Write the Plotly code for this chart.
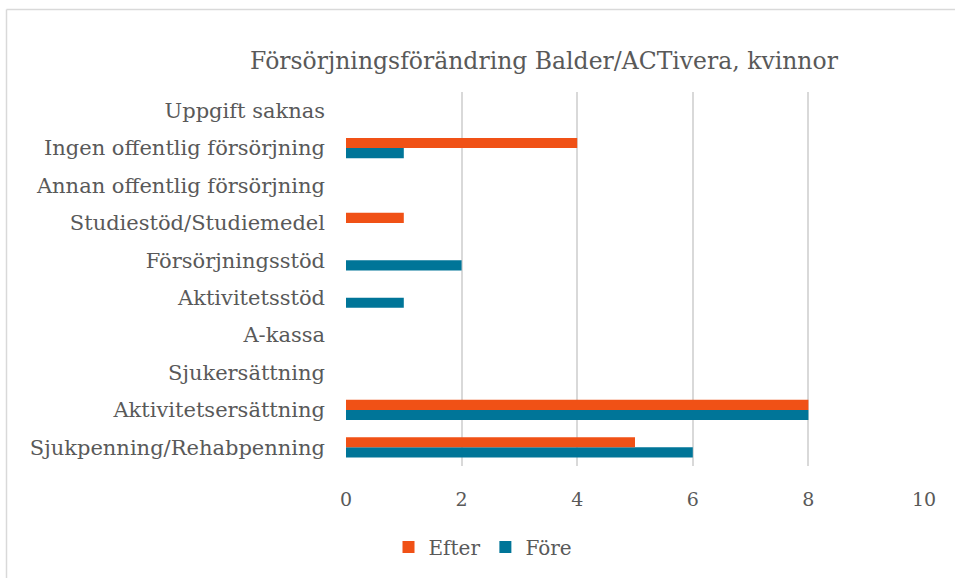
import plotly.graph_objects as go

categories = ["Sjukpenning/Rehabpenning", "Aktivitetsersättning", "Sjukersättning", "A-kassa",
              "Aktivitetsstöd", "Försörjningsstöd", "Studiestöd/Studiemedel",
              "Annan offentlig försörjning", "Ingen offentlig försörjning", "Uppgift saknas"]
efter = [5, 8, 0, 0, 0, 0, 1, 0, 4, 0]
fore = [6, 8, 0, 0, 1, 2, 0, 0, 1, 0]

FONT = "DejaVu Serif"
GRAY = "#595959"

fig = go.Figure()
fig.add_trace(go.Bar(y=categories, x=fore, name="Före", orientation="h",
                     marker=dict(color="#007598", line=dict(width=0)), legendrank=2))
fig.add_trace(go.Bar(y=categories, x=efter, name="Efter", orientation="h",
                     marker=dict(color="#F05116", line=dict(width=0)), legendrank=1))

L, R, T, B = 346, 924, 92, 466
W, H = 955, 578
def px(x): return (x - L) / (R - L)
def py(y): return (B - y) / (B - T)

fig.update_layout(
    width=W, height=H,
    margin=dict(l=L, r=W - R, t=T, b=H - B),
    paper_bgcolor="white", plot_bgcolor="white",
    barmode="group", bargap=0.46, bargroupgap=0,
    font=dict(family=FONT, color=GRAY, size=20),
    title=dict(text="Försörjningsförändring Balder/ACTivera, kvinnor",
               x=px(544), xref="paper", xanchor="center",
               y=1 - 61 / H, yref="container", yanchor="middle",
               font=dict(size=23.5, color=GRAY, family=FONT)),
    xaxis=dict(range=[0, 10], dtick=2, showgrid=True, gridcolor="#d9d9d9", gridwidth=1.5,
               zeroline=False, showline=False, ticks="", tickfont=dict(size=19, color=GRAY),
               ticklabelstandoff=20, fixedrange=True),
    yaxis=dict(type="category", categoryorder="array", categoryarray=categories,
               showgrid=False, zeroline=False, showline=False, ticks="",
               tickfont=dict(size=21, color=GRAY), ticklabelstandoff=20,
               automargin=False, fixedrange=True),
    legend=dict(orientation="h", x=px(483), xanchor="center", y=py(547), yanchor="middle",
                font=dict(size=20, color=GRAY), itemwidth=30, tracegroupgap=0),
    showlegend=True,
    shapes=[
        dict(type="line", xref="paper", yref="paper",
             x0=px(6.5), x1=px(6.5), y0=py(H + 5), y1=py(9.5),
             line=dict(color="#d9d9d9", width=1.5), layer="below"),
        dict(type="line", xref="paper", yref="paper",
             x0=px(6.5), x1=px(W + 5), y0=py(9.5), y1=py(9.5),
             line=dict(color="#d9d9d9", width=1.5), layer="below"),
    ],
)

fig.write_html("out.html", config={"displayModeBar": False},
               post_script="document.body.style.margin='0';")
